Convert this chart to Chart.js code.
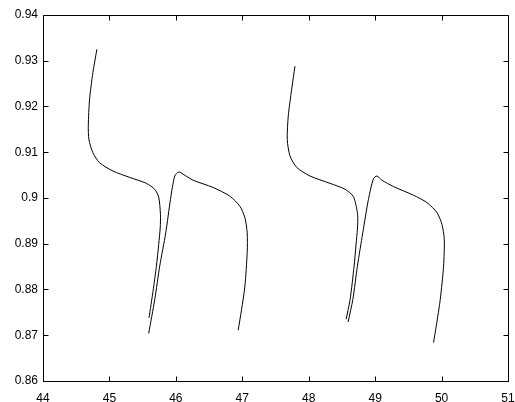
<!DOCTYPE html>
<html>
<head>
<meta charset="utf-8">
<script src="https://cdn.jsdelivr.net/npm/chart.js@4/dist/chart.umd.min.js"></script>
<style>
  html, body { margin: 0; padding: 0; background: #fff; }
  #wrap { width: 515px; height: 402px; }
</style>
</head>
<body>
<div id="wrap"><canvas id="curveChart" width="515" height="402"></canvas></div>
<script>
// tick labels
const xTicks = [44, 45, 46, 47, 48, 49, 50, 51];
const yTicks = [0.86, 0.87, 0.88, 0.89, 0.9, 0.91, 0.92, 0.93, 0.94];

// branch 1: first lobe, falling from the top
const branch1X = [44.811, 44.751, 44.701, 44.682, 44.691, 44.751, 44.852, 45.053, 45.305, 45.557, 45.682, 45.742, 45.768, 45.765, 45.742, 45.707, 45.656, 45.596];
const branch1Y = [0.9325, 0.9274, 0.9216, 0.9158, 0.9128, 0.9099, 0.9077, 0.9059, 0.9045, 0.9032, 0.9019, 0.9002, 0.8964, 0.8936, 0.8899, 0.8851, 0.8796, 0.8738];

// branch 2: first lobe, rising then falling
const branch2X = [45.591, 45.682, 45.757, 45.848, 45.919, 45.983, 46.044, 46.109, 46.259, 46.561, 46.813, 46.964, 47.039, 47.074, 47.074, 47.039, 46.989, 46.938];
const branch2Y = [0.8704, 0.8778, 0.8851, 0.8924, 0.8997, 0.9048, 0.9057, 0.9052, 0.9039, 0.9023, 0.9004, 0.8982, 0.8957, 0.8924, 0.8881, 0.8807, 0.8756, 0.8711];

// branch 3: second lobe, falling from the top
const branch3X = [47.793, 47.744, 47.692, 47.677, 47.718, 47.819, 48.020, 48.321, 48.548, 48.673, 48.736, 48.733, 48.713, 48.683, 48.623, 48.563];
const branch3Y = [0.9288, 0.9238, 0.9179, 0.9128, 0.9092, 0.9067, 0.9048, 0.9032, 0.9019, 0.9003, 0.8964, 0.8932, 0.8899, 0.8851, 0.8778, 0.8735];

// branch 4: second lobe, rising then falling
const branch4X = [48.593, 48.664, 48.733, 48.814, 48.899, 48.974, 49.026, 49.101, 49.276, 49.578, 49.780, 49.931, 50.006, 50.041, 50.030, 49.980, 49.920, 49.879];
const branch4Y = [0.8729, 0.8778, 0.8851, 0.8924, 0.8997, 0.9042, 0.9048, 0.9039, 0.9025, 0.9006, 0.8990, 0.8968, 0.8942, 0.8910, 0.8851, 0.8778, 0.8720, 0.8684];

const toPoints = (xs, ys) => xs.map((x, i) => ({ x: x, y: ys[i] }));

const lineStyle = {
    showLine: true,
    borderColor: '#000',
    borderWidth: 1,
    pointRadius: 0,
    tension: 0.25,
    fill: false
};

// box around the plot with inward ticks on all four sides
const boxTicks = {
    id: 'boxTicks',
    afterDatasetsDraw(chart) {
        const ctx = chart.ctx;
        const a = chart.chartArea;
        const sx = chart.scales.x;
        const sy = chart.scales.y;
        const len = 5;
        ctx.save();
        ctx.strokeStyle = '#000';
        ctx.lineWidth = 1;
        ctx.beginPath();
        const l = Math.round(a.left) + 0.5, r = Math.round(a.right) + 0.5;
        const t = Math.round(a.top) + 0.5, b = Math.round(a.bottom) + 0.5;
        ctx.moveTo(l, t); ctx.lineTo(r, t); ctx.lineTo(r, b); ctx.lineTo(l, b); ctx.closePath();
        xTicks.forEach(v => {
            const px = Math.round(sx.getPixelForValue(v)) + 0.5;
            ctx.moveTo(px, b); ctx.lineTo(px, b - len);
            ctx.moveTo(px, t); ctx.lineTo(px, t + len);
        });
        yTicks.forEach(v => {
            const py = Math.round(sy.getPixelForValue(v)) + 0.5;
            ctx.moveTo(l, py); ctx.lineTo(l + len, py);
            ctx.moveTo(r, py); ctx.lineTo(r - len, py);
        });
        ctx.stroke();
        ctx.restore();
    }
};
Chart.register(boxTicks);

const tickFont = { family: "'Liberation Sans', Arial, sans-serif", size: 12 };

new Chart(document.getElementById('curveChart').getContext('2d'), {
    type: 'scatter',
    data: {
        datasets: [
            Object.assign({ data: toPoints(branch1X, branch1Y) }, lineStyle),
            Object.assign({ data: toPoints(branch2X, branch2Y) }, lineStyle),
            Object.assign({ data: toPoints(branch3X, branch3Y) }, lineStyle),
            Object.assign({ data: toPoints(branch4X, branch4Y) }, lineStyle)
        ]
    },
    options: {
        responsive: false,
        animation: false,
        layout: { padding: { top: 15, right: 7, left: 0, bottom: 0 } },
        plugins: {
            legend: { display: false },
            tooltip: { enabled: false }
        },
        scales: {
            x: {
                type: 'linear',
                min: 44,
                max: 51,
                afterBuildTicks: s => { s.ticks = xTicks.map(v => ({ value: v })); },
                afterFit: s => { s.height = 21; s.paddingLeft = 0; s.paddingRight = 0; },
                grid: { display: false, drawTicks: false },
                border: { display: false },
                ticks: { color: '#000', font: tickFont, padding: 10, maxRotation: 0, callback: v => String(v) }
            },
            y: {
                type: 'linear',
                min: 0.86,
                max: 0.94,
                afterBuildTicks: s => { s.ticks = yTicks.map(v => ({ value: v })); },
                afterFit: s => { s.width = 43; s.paddingTop = 0; s.paddingBottom = 0; },
                grid: { display: false, drawTicks: false },
                border: { display: false },
                ticks: { color: '#000', font: tickFont, padding: 5, callback: v => String(+v.toFixed(2)) }
            }
        }
    }
});
</script>
</body>
</html>
